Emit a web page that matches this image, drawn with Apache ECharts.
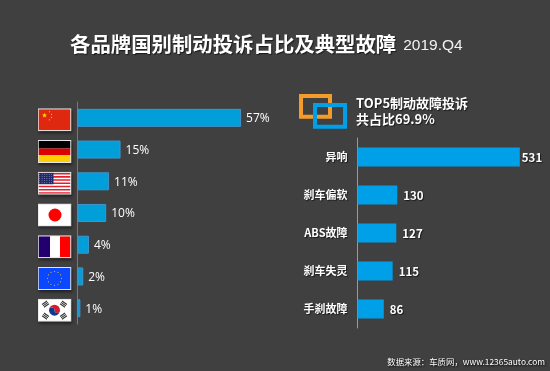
<!DOCTYPE html>
<html><head><meta charset="utf-8">
<style>html,body{margin:0;padding:0;background:#404040}#c{width:550px;height:371px}</style>
<script src="https://cdn.jsdelivr.net/npm/echarts@6/dist/echarts.min.js"></script>
</head><body><div id="c"></div>
<script>
const countries = ['cn','de','us','jp','fr','eu','kr'];
const shares = [57,15,11,10,4,2,1];
const faults = ['异响','刹车偏软','ABS故障','刹车失灵','手刹故障'];
const faultCounts = [531,130,127,115,86];

function star(cx,cy,r,fill){let p=[];for(let i=0;i<10;i++){const a=-Math.PI/2+i*Math.PI/5,R=i%2?r*0.42:r;p.push((cx+R*Math.cos(a)).toFixed(2)+','+(cy+R*Math.sin(a)).toFixed(2));}return `<polygon points="${p.join(' ')}" fill="${fill}"/>`;}
function ring(cx,cy,r,n,sr,fill){let s='';for(let i=0;i<n;i++){const a=i/n*2*Math.PI;s+=star(cx+r*Math.cos(a),cy+r*Math.sin(a),sr,fill);}return s;}
const flagBodies = {
 cn:`<rect width="32" height="21" fill="#de2910"/>`+star(6,6,2.6,'#ffde00')+star(11,2.5,.9,'#ffde00')+star(13,5,.9,'#ffde00')+star(13,8,.9,'#ffde00')+star(11,10.5,.9,'#ffde00'),
 de:`<rect width="32" height="7.5" fill="#000"/><rect y="7.5" width="32" height="6.5" fill="#dd0000"/><rect y="14" width="32" height="7" fill="#ffce00"/>`,
 us:(()=>{let s='<rect width="32" height="21" fill="#fff"/>';for(let i=0;i<7;i++)s+=`<rect y="${i*3.23}" width="32" height="1.62" fill="#e2202c"/>`;s+='<rect width="15" height="11.5" fill="#1f2a6b"/>';for(let y=1.5;y<11;y+=2.1)for(let x=1.2;x<15;x+=2.4)s+=`<circle cx="${x}" cy="${y}" r=".45" fill="#c8c8e0"/>`;return s;})(),
 jp:`<rect width="32" height="21" fill="#fff"/><circle cx="16.5" cy="10.5" r="6.5" fill="#ff0000"/>`,
 fr:`<rect width="32" height="21" fill="#fff"/><rect width="11.5" height="21" fill="#22006e"/><rect x="21.5" width="10.5" height="21" fill="#ff0000"/>`,
 eu:`<rect width="32" height="21" fill="#0a47ff"/>`+ring(16,10.5,7,12,.9,'#e8c020'),
 kr:(()=>{let s='<rect width="32" height="21" fill="#fff"/>';
   s+='<path d="M10.5 10.5a5.5 5.5 0 0 1 11 0a2.75 2.75 0 0 1-5.5 0a2.75 2.75 0 0 0-5.5 0z" fill="#d81e2c"/><path d="M10.5 10.5a2.75 2.75 0 0 1 5.5 0a2.75 2.75 0 0 0 5.5 0a5.5 5.5 0 0 1-11 0z" fill="#123a8c"/>';
   [[7,4.5,-35],[25,4.5,35],[7,16.5,35],[25,16.5,-35]].forEach(t=>{s+=`<g transform="translate(${t[0]} ${t[1]}) rotate(${t[2]})" fill="#333"><rect x="-3" y="-2.2" width="6" height="1.1"/><rect x="-3" y="-.55" width="6" height="1.1"/><rect x="-3" y="1.1" width="6" height="1.1"/></g>`;});
   return s;})()
};
function flagUri(k){
  const svg=`<svg xmlns="http://www.w3.org/2000/svg" width="34" height="23" viewBox="-1 -1 34 23"><rect x="-1" y="-1" width="34" height="23" fill="#e6e6e6"/><svg x="0" y="0" width="32" height="21" viewBox="0 0 32 21">${flagBodies[k]}</svg></svg>`;
  return 'data:image/svg+xml;charset=utf-8,'+encodeURIComponent(svg);
}
const rich={};
countries.forEach(k=>{rich[k]={width:34,height:23,backgroundColor:{image:flagUri(k)},shadowColor:'rgba(0,0,0,0.5)',shadowBlur:3,shadowOffsetX:1,shadowOffsetY:2};});

const cjk='"Noto Sans CJK SC","Noto Sans",sans-serif';
const shadow={textShadowColor:'rgba(0,0,0,0.6)',textShadowBlur:1,textShadowOffsetX:1,textShadowOffsetY:1};
const chart=echarts.init(document.getElementById('c'),null,{renderer:'canvas'});
chart.setOption({
 animation:false,
 backgroundColor:'#404040',
 title:[{
   text:'{a|各品牌国别制动投诉占比及典型故障} {b|2019.Q4}',left:70,top:34,padding:0,
   textStyle:{fontWeight:'normal',rich:{a:{fontFamily:cjk,fontSize:20.4,fontWeight:'bold',color:'#fff',...shadow},b:{fontFamily:'"Liberation Sans",sans-serif',fontSize:15.5,fontWeight:'normal',color:'#f2f2f2',padding:[4,0,0,2]}}}
 },{
   text:'数据来源：车质网，www.12365auto.com',right:5,top:358,padding:0,
   textStyle:{fontFamily:cjk,fontSize:8.4,fontWeight:'normal',color:'#fff',textShadowColor:'#000',textShadowBlur:2,textShadowOffsetX:1,textShadowOffsetY:1}
 }],
 grid:[
  {left:77.5,top:102,width:172.2,height:222},
  {left:357.5,top:138,width:183.4,height:190}
 ],
 xAxis:[
  {gridIndex:0,type:'value',min:0,max:60,show:false},
  {gridIndex:1,type:'value',min:0,max:600,show:false}
 ],
 yAxis:[
  {gridIndex:0,type:'category',inverse:true,data:countries,
   axisLine:{lineStyle:{color:'#787878',width:1}},axisTick:{show:false},
   axisLabel:{margin:5,padding:[4,1,0,0],formatter:v=>`{${v}|}`,rich:rich}},
  {gridIndex:1,type:'category',inverse:true,data:faults,
   axisLine:{lineStyle:{color:'#9a9a9a',width:1}},axisTick:{show:false},
   axisLabel:{margin:10,color:'#fff',fontFamily:cjk,fontSize:11,fontWeight:'bold',...shadow}}
 ],
 series:[
  {type:'bar',xAxisIndex:0,yAxisIndex:0,data:shares,barWidth:18,
   itemStyle:{color:'#009fd9',borderColor:'#3f94cc',borderWidth:1},
   label:{show:true,position:'right',distance:5,offset:[0,1],formatter:'{c}%',color:'#fff',fontFamily:'"Open Sans",sans-serif',fontSize:12}},
  {type:'bar',xAxisIndex:1,yAxisIndex:1,barWidth:19,
   data:faultCounts.map((v,i)=>i===0?{value:v,label:{distance:2}}:v),
   itemStyle:{color:'#00a0e9'},
   label:{show:true,position:'right',distance:6,offset:[0,1],color:'#fff',fontFamily:cjk,fontSize:11.5,fontWeight:'bold',...shadow}}
 ],
 graphic:[
  {type:'rect',shape:{x:301,y:96,width:29,height:20.7},style:{fill:'none',stroke:'#f39c2c',lineWidth:4}},
  {type:'rect',shape:{x:315,y:105,width:30,height:21.7},style:{fill:'none',stroke:'#00a0e9',lineWidth:4}},
  {type:'text',x:356,y:97,style:{text:'TOP5制动故障投诉',fill:'#fff',font:'bold 13px "Noto Sans CJK SC"',textShadowColor:'rgba(0,0,0,0.6)',textShadowBlur:1,textShadowOffsetX:1,textShadowOffsetY:1}},
  {type:'text',x:356,y:112.5,style:{text:'共占比69.9%',fill:'#fff',font:'bold 13px "Noto Sans CJK SC"',textShadowColor:'rgba(0,0,0,0.6)',textShadowBlur:1,textShadowOffsetX:1,textShadowOffsetY:1}}
 ]
});
</script></body></html>
